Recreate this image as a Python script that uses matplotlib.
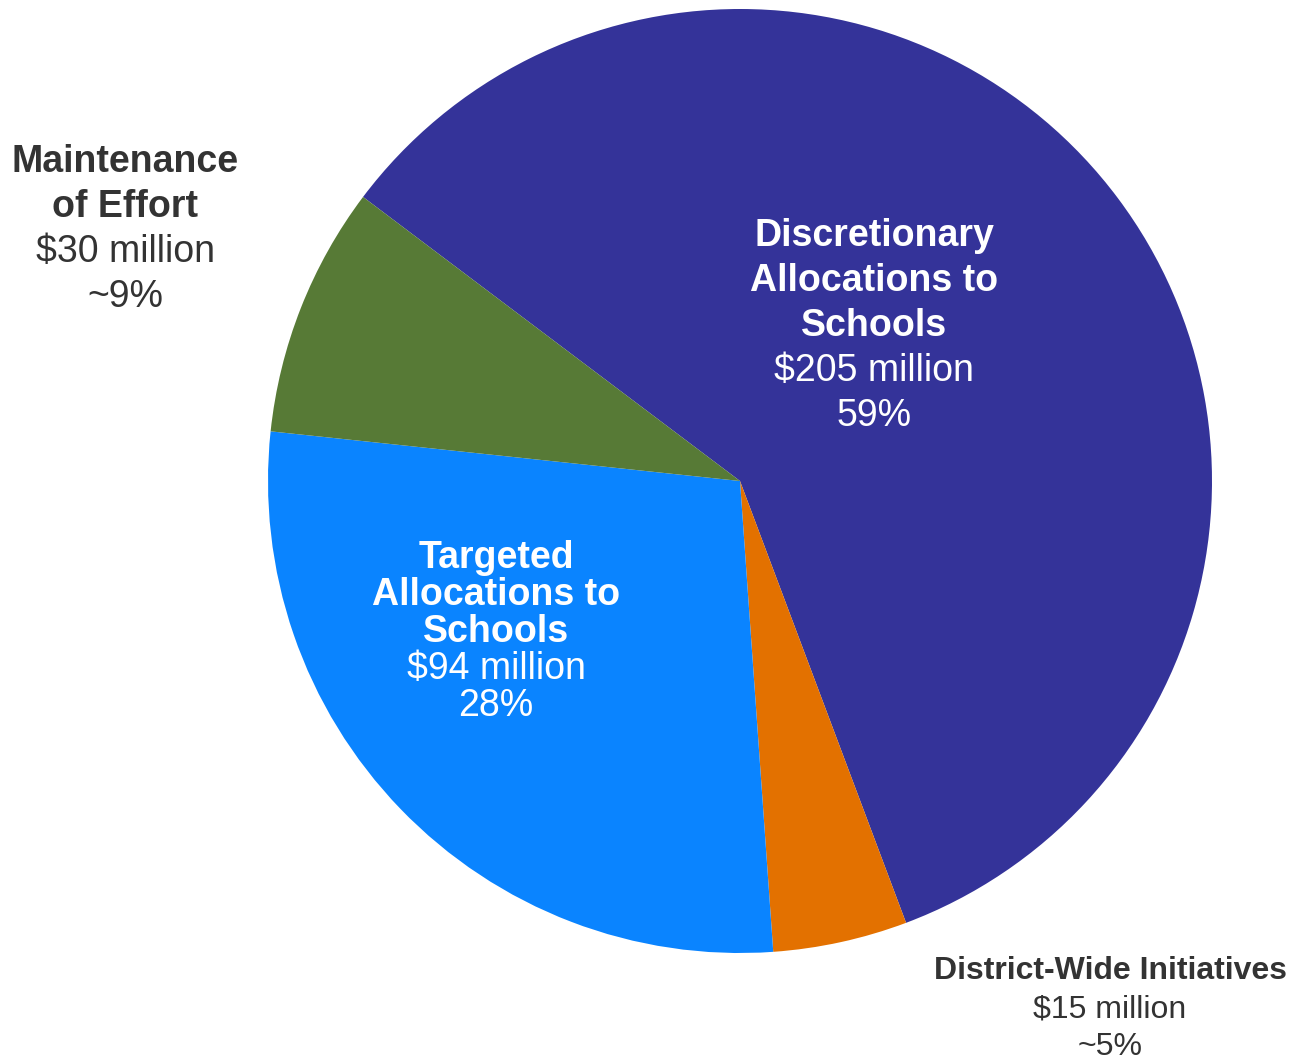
import matplotlib.pyplot as plt

plt.rcParams['font.family'] = ['Liberation Sans', 'DejaVu Sans']

# slices in clockwise order starting from the top-left boundary
names = ['Discretionary\nAllocations to\nSchools', 'District-Wide Initiatives',
         'Targeted\nAllocations to\nSchools', 'Maintenance\nof Effort']
amounts = [205, 15, 94, 30]            # $ million, as labelled
shares = [59.0, 4.6, 27.8, 8.6]        # slice sizes as drawn in the picture (%)
pct_labels = ['59%', '~5%', '28%', '~9%']
colors = ['#343399', '#E37100', '#0A84FF', '#577A36']

W, H = 1292, 1060
fig = plt.figure(figsize=(W / 100, H / 100), dpi=100)
ax = fig.add_axes([0, 0, 1, 1])

ax.pie(shares, colors=colors, startangle=143, counterclock=False,
       center=(740, H - 481), radius=472, frame=True)
ax.set_xlim(0, W)
ax.set_ylim(0, H)
ax.set_aspect('equal')
ax.axis('off')

big = 27
small = 23
dark = '#333333'


def label(x, y, name, amount, pct, color, size, spacing):
    lines_b = name.split('\n')
    lines_r = [f'${amount} million', pct]
    yy = H - y
    for s in lines_b:
        ax.text(x, yy, s, ha='center', va='center', fontsize=size,
                fontweight='bold', color=color)
        yy -= spacing
    for s in lines_r:
        ax.text(x, yy, s, ha='center', va='center', fontsize=size,
                color=color)
        yy -= spacing


label(874, 236, names[0], amounts[0], pct_labels[0], 'white', big, 45)
label(1110, 971, names[1], amounts[1], pct_labels[1], dark, small, 38)
label(496, 558, names[2], amounts[2], pct_labels[2], 'white', big, 37)
label(125, 162, names[3], amounts[3], pct_labels[3], dark, big, 45)

fig.savefig('out.png', dpi=100)
